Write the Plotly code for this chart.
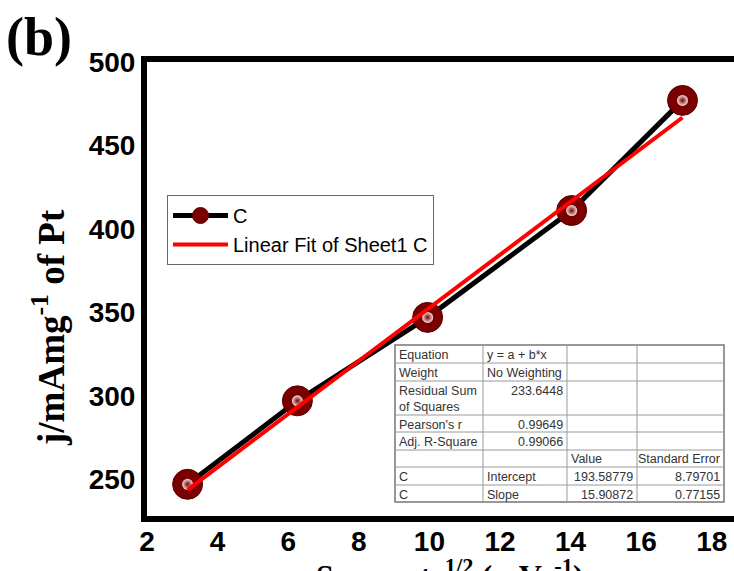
import plotly.graph_objects as go

# ---- data ----
scan_rate_sqrt = [3.15, 6.26, 9.95, 14.03, 17.17]
current_density = [247, 297, 347, 411, 477]
fit_intercept = 193.58779
fit_slope = 15.90872

x_ticks = [2, 4, 6, 8, 10, 12, 14, 16, 18]
y_ticks = [250, 300, 350, 400, 450, 500]

table_rows = [
    ["Equation", "y = a + b*x", "", ""],
    ["Weight", "No Weighting", "", ""],
    ["Residual Sum<br>of Squares", "233.6448", "", ""],
    ["Pearson's r", "0.99649", "", ""],
    ["Adj. R-Square", "0.99066", "", ""],
    ["", "", "Value", "Standard Error"],
    ["C", "Intercept", "193.58779", "8.79701"],
    ["C", "Slope", "15.90872", "0.77155"],
]
table_align = [
    ["left", "left", "left", "left"],
    ["left", "left", "left", "left"],
    ["left", "right", "left", "left"],
    ["left", "right", "left", "left"],
    ["left", "right", "left", "left"],
    ["left", "left", "left", "right"],
    ["left", "left", "right", "right"],
    ["left", "left", "right", "right"],
]

fit_x = [scan_rate_sqrt[0], scan_rate_sqrt[-1]]
fit_y = [fit_intercept + fit_slope * v for v in fit_x]

W, H = 734, 571
L, R, T, B = 147, 0, 62, 55
pw, ph = W - L - R, H - T - B

def px_x(p):
    return (p - L) / pw

def px_y(p):
    return (H - B - p) / ph

fig = go.Figure()

fig.add_trace(go.Scatter(
    x=scan_rate_sqrt, y=current_density, mode="lines+markers", name="C",
    line=dict(color="black", width=5),
    marker=dict(size=30, color="#7a0000", line=dict(color="#5a0000", width=1)),
))
fig.add_trace(go.Scatter(
    x=scan_rate_sqrt, y=current_density, mode="markers", showlegend=False,
    hoverinfo="skip",
    marker=dict(size=11, color="#f4dede",
                gradient=dict(type="radial", color="#7a0000"), line=dict(width=0)),
))
fig.add_trace(go.Scatter(
    x=fit_x, y=fit_y, mode="lines", name="Linear Fit of Sheet1 C",
    line=dict(color="#ff0000", width=4),
))

# ---- statistics table drawn with shapes + annotations ----
col_edges = [395, 483, 567, 637, 724]
row_edges = [345, 363, 381, 415, 432, 450, 467, 485, 502]
grid = "#9a9a9a"
shapes = [dict(type="rect", xref="paper", yref="paper",
               x0=px_x(col_edges[0]), x1=px_x(col_edges[-1]),
               y0=px_y(row_edges[-1]), y1=px_y(row_edges[0]),
               fillcolor="white", line=dict(color="#777777", width=1.5), layer="above")]
for r in row_edges[1:-1]:
    shapes.append(dict(type="line", xref="paper", yref="paper",
                       x0=px_x(col_edges[0]), x1=px_x(col_edges[-1]),
                       y0=px_y(r), y1=px_y(r), line=dict(color=grid, width=1), layer="above"))
for c in col_edges[1:-1]:
    shapes.append(dict(type="line", xref="paper", yref="paper",
                       x0=px_x(c), x1=px_x(c),
                       y0=px_y(row_edges[-1]), y1=px_y(row_edges[0]),
                       line=dict(color=grid, width=1), layer="above"))

annotations = []
tfont = dict(family="Liberation Sans, Arial", size=12.5, color="#333333")
for i, row in enumerate(table_rows):
    for j, txt in enumerate(row):
        if not txt:
            continue
        al = table_align[i][j]
        xp = col_edges[j] + 2 if al == "left" else col_edges[j + 1] - 2
        annotations.append(dict(
            text=txt, xref="paper", yref="paper", x=px_x(xp), y=px_y(row_edges[i] + 0.5),
            xanchor=al, yanchor="top", align="left", showarrow=False, font=tfont,
        ))

annotations += [
    dict(text="(b)", xref="paper", yref="paper", x=px_x(4), y=px_y(37),
         xanchor="left", yanchor="middle", showarrow=False,
         font=dict(family="Liberation Serif, Times New Roman", size=54,
                   color="black", weight="bold")),
    dict(text="j/mAmg<sup>-1</sup> of Pt", xref="paper", yref="paper",
         x=px_x(48), y=px_y(328), xanchor="center", yanchor="middle",
         textangle=-90, showarrow=False,
         font=dict(family="Liberation Serif, Times New Roman", size=37,
                   color="black", weight="bold")),
    dict(text="Scan rate<sup>1/2</sup> (mVs<sup>-1</sup>)", xref="paper", yref="paper",
         x=px_x(450), y=px_y(574), xanchor="center", yanchor="middle",
         showarrow=False,
         font=dict(family="Liberation Serif, Times New Roman", size=32,
                   color="black", weight="bold")),
]

tickfont = dict(family="Liberation Sans, Arial", size=28, color="black", weight="bold")

fig.update_xaxes(
    range=[2, 2 + (W - L) / 35.3], tickvals=x_ticks, ticks="",
    showline=True, linecolor="black", linewidth=6, mirror=True,
    showgrid=False, zeroline=False, tickfont=tickfont, ticklabelstandoff=-5,
)
fig.update_yaxes(
    range=[228, 500], tickvals=y_ticks, ticks="",
    showline=True, linecolor="black", linewidth=6, mirror=False,
    showgrid=False, zeroline=False, tickfont=tickfont, ticklabelstandoff=0,
)

fig.update_layout(
    width=W, height=H,
    margin=dict(l=L, r=R, t=T, b=B, pad=0),
    paper_bgcolor="white", plot_bgcolor="white",
    showlegend=True,
    legend=dict(x=px_x(167), y=px_y(195), xanchor="left", yanchor="top",
                bgcolor="white", bordercolor="#666666", borderwidth=1,
                font=dict(family="Liberation Sans, Arial", size=20, color="black"),
                itemwidth=55, tracegroupgap=0),
    shapes=shapes,
    annotations=annotations,
)

fig.write_html("out.html")
